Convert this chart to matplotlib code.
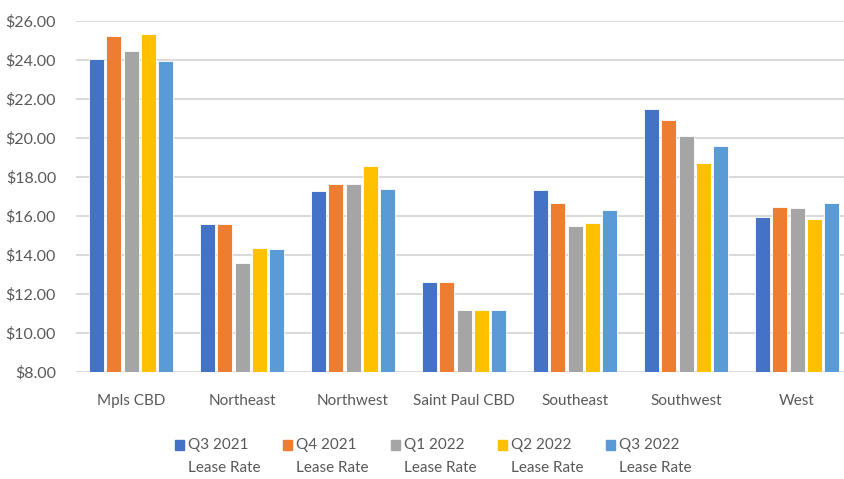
import matplotlib
matplotlib.use("Agg")
import matplotlib.pyplot as plt
import numpy as np
from matplotlib.patches import Rectangle

plt.rcParams['font.family'] = ['Lato', 'DejaVu Sans']

submarkets = ["Mpls CBD", "Northeast", "Northwest", "Saint Paul CBD",
              "Southeast", "Southwest", "West"]
quarters = ["Q3 2021", "Q4 2021", "Q1 2022", "Q2 2022", "Q3 2022"]

q3_2021 = [24.05, 15.60, 17.30, 12.60, 17.35, 21.50, 15.95]
q4_2021 = [25.25, 15.60, 17.65, 12.60, 16.65, 20.90, 16.45]
q1_2022 = [24.45, 13.60, 17.65, 11.20, 15.50, 20.10, 16.40]
q2_2022 = [25.35, 14.35, 18.55, 11.20, 15.65, 18.70, 15.85]
q3_2022 = [23.95, 14.30, 17.40, 11.20, 16.30, 19.60, 16.65]

series = [q3_2021, q4_2021, q1_2022, q2_2022, q3_2022]
colors = ["#4472C4", "#ED7D31", "#A5A5A5", "#FFC000", "#5B9BD5"]
grey_txt = "#595959"

fig = plt.figure(figsize=(8.44, 4.79), dpi=100)
ax = fig.add_axes([0.0895, 0.2234, 0.9206, 0.7328])

x = np.arange(len(submarkets))
step = 0.156
for i, (vals, c) in enumerate(zip(series, colors)):
    ax.bar(x + (i - 2) * step, vals, width=0.135, color=c,
           edgecolor="white", linewidth=0.6, zorder=3)

ax.set_xlim(-0.5, len(submarkets) - 0.5)
ax.set_ylim(8, 26)
ax.set_yticks(np.arange(8, 27, 2))
ax.set_yticklabels([f"${v:.2f}" for v in np.arange(8, 27, 2)])
ax.set_xticks(x)
ax.set_xticklabels(submarkets)
ax.tick_params(axis="both", length=0, labelsize=11.5, labelcolor=grey_txt)
ax.tick_params(axis="y", pad=14)
ax.tick_params(axis="x", pad=16, labelsize=11)
ax.grid(axis="y", color="#D9D9D9", linewidth=1.4, zorder=0)
for s in ax.spines.values():
    s.set_visible(False)

# legend drawn by hand: square swatch + two-line label
W, H = 844, 479
for i, (q, c) in enumerate(zip(quarters, colors)):
    lx = 175 + i * 107.8
    fig.add_artist(Rectangle((lx / W, 1 - 450 / H), 9 / W, 10 / H,
                             transform=fig.transFigure, color=c))
    fig.text((lx + 13) / W, 1 - 445 / H, q, fontsize=11, color=grey_txt,
             va="center", ha="left")
    fig.text((lx + 13) / W, 1 - 468 / H, "Lease Rate", fontsize=11,
             color=grey_txt, va="center", ha="left")

fig.savefig("out.png", dpi=100, facecolor="white")
